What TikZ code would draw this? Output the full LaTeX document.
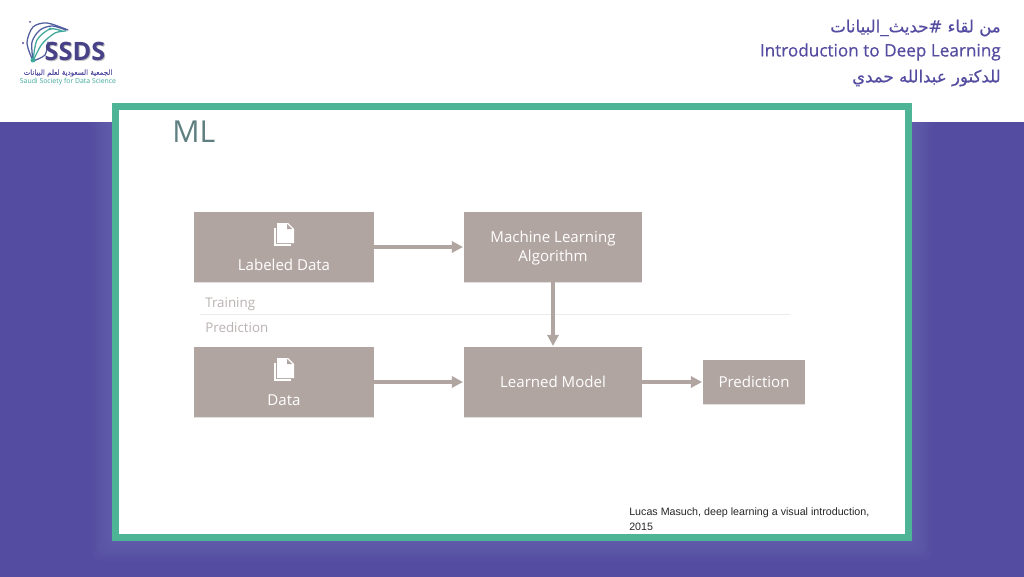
\documentclass[tikz,border=0pt]{standalone}
\usepackage{fontspec}
\setmainfont{Open Sans}
\newfontfamily\arabicfont[Script=Arabic,FakeBold=0.4]{DejaVu Sans}
\newfontfamily\headfont[FakeBold=0.5]{Open Sans}
\newfontfamily\citefont{Liberation Sans}
\TeXXeTstate=1
\usetikzlibrary{shadows,arrows.meta,positioning}
\definecolor{bandpurple}{HTML}{544CA0}
\definecolor{framegreen}{HTML}{4DB596}
\definecolor{boxtaupe}{HTML}{B1A5A1}
\definecolor{mltitle}{HTML}{5F7F80}
\definecolor{sidetext}{HTML}{B9B3B1}
\definecolor{logoteal}{HTML}{3FA89A}
\tikzset{
    flowbox/.style={fill=boxtaupe, inner sep=0pt,
        general shadow={shadow xshift=0pt, shadow yshift=-1pt, opacity=0.12, fill=black}},
    boxlabel/.style={text=white, inner sep=0pt, align=center, font=\fontsize{10.7}{13.5}\selectfont},
    flowarrow/.style={draw=boxtaupe, line width=2.2pt, -{Triangle[length=8pt,width=8pt]}, shorten >=0.5pt},
    sidelabel/.style={text=sidetext, anchor=west, inner sep=0pt, font=\fontsize{9.5}{11}\selectfont},
    headline/.style={text=bandpurple, anchor=east, inner sep=0pt},
    logoarc/.style={draw=bandpurple!80!logoteal, line width=0.9pt, line cap=round}
}
\newcommand{\docicon}[2]{%
    \draw[white, line width=0.9pt] (#1-9,#2-6) -- (#1-9,#2+11) -- (#1+7,#2+11);
    \fill[white] (#1-7,#2-11) -- (#1+4,#2-11) -- (#1+10,#2-5) -- (#1+10,#2+9) -- (#1-7,#2+9) -- cycle;
    \fill[boxtaupe] (#1+3,#2-10) -- (#1+3,#2-5) -- (#1+8,#2-5) -- cycle;
}
\begin{document}
\begin{tikzpicture}[x=0.025cm, y=-0.025cm]
    % Page and band
    \useasboundingbox (0,0) rectangle (1024,577);
    \fill[white] (0,0) rectangle (1024,122);
    \fill[bandpurple] (0,122) rectangle (1024,577);

    % Pale glow round the slide
    \begin{scope}
        \clip (0,122) rectangle (1024,577);
        \foreach \g in {2,4,...,20} {
            \fill[white, opacity=0.011, rounded corners=6pt] (112-\g,103-\g) rectangle (912+\g,541+\g);
        }
    \end{scope}

    % Slide with its frame
    \fill[framegreen] (112,103) rectangle (912,541);
    \fill[white] (119,110) rectangle (905,534);

    % Logo
    \draw[logoarc] plot[smooth] coordinates {(33,61) (27,43) (33,27) (47,23) (68,30)};
    \draw[logoarc] plot[smooth] coordinates {(33,61) (32,42) (40,30) (52,26) (66,30)};
    \draw[logoarc, draw=logoteal] plot[smooth] coordinates {(33,61) (37,40) (50,29) (62,31)};
    \draw[logoarc, draw=logoteal] plot[smooth] coordinates {(33,61) (42,44) (55,33) (66,31)};
    \draw[logoarc] plot[smooth] coordinates {(33,61) (45,55) (48,42)};
    \fill[logoteal] (33,60) circle (2.5);
    \fill[logoteal] (50,29) circle (1.5);
    \fill[bandpurple] (30,22) circle (1);
    \fill[bandpurple] (23,43) circle (1.2);
    \node[text=black!25, inner sep=0pt] (logoback) at (76,52)
        {\fontsize{18}{20}\selectfont\bfseries SSDS};
    \node[text=bandpurple!85!black, inner sep=0pt] (logoname) at (75,51)
        {\fontsize{18}{20}\selectfont\bfseries SSDS};
    \node[text=bandpurple, inner sep=0pt] (logoarabic) at (68,73)
        {\arabicfont\fontsize{5}{6}\selectfont\beginR الجمعية السعودية لعلم البيانات\endR};
    \node[text=logoteal, inner sep=0pt] (logoenglish) at (68,82)
        {\fontsize{4.9}{6}\selectfont Saudi Society for Data Science};

    % Headline, top right
    \node[headline] (talkname) at (1001,28)
        {\arabicfont\fontsize{11.8}{13}\selectfont\beginR من لقاء \#حديث\_البيانات\endR};
    \node[headline] (talktitle) at (1001,52)
        {\headfont\fontsize{12.2}{14}\selectfont Introduction to Deep Learning};
    \node[headline] (talker) at (1001,78)
        {\arabicfont\fontsize{11.8}{13}\selectfont\beginR للدكتور عبدالله حمدي\endR};

    % Slide title
    \node[text=mltitle, anchor=west, inner sep=0pt] (mlhead) at (172,132)
        {\fontsize{21.5}{24}\selectfont ML};

    % Boxes
    \node[flowbox, minimum width=4.5cm, minimum height=1.75cm] (labeled) at (284,247) {};
    \node[flowbox, minimum width=4.45cm, minimum height=1.75cm] (mlalgo) at (553,247) {};
    \node[flowbox, minimum width=4.5cm, minimum height=1.75cm] (data) at (284,382) {};
    \node[flowbox, minimum width=4.45cm, minimum height=1.75cm] (learned) at (553,382) {};
    \node[flowbox, minimum width=2.55cm, minimum height=1.1cm] (predicted) at (754,382) {};

    % Box labels
    \node[boxlabel] (labeledtext) at (284,265) {Labeled Data};
    \node[boxlabel] (mlalgotext) at (553,248) {Machine Learning\\Algorithm};
    \node[boxlabel] (datatext) at (284,400) {Data};
    \node[boxlabel] (learnedtext) at (553,382) {Learned Model};
    \node[boxlabel] (predictedtext) at (754,382) {Prediction};
    \docicon{284}{234}
    \docicon{284}{369}

    % Training / prediction split
    \coordinate (splitleft) at (200,314);
    \coordinate (splitright) at (790,314);
    \draw[black!8, line width=0.5pt] (splitleft) -- (splitright);
    \node[sidelabel] (traintext) at (205,304) {Training};
    \node[sidelabel] (predtext) at (205,327) {Prediction};

    % Arrows
    \draw[flowarrow] (labeled) -- (mlalgo);
    \draw[flowarrow] (mlalgo) -- (learned);
    \draw[flowarrow] (data) -- (learned);
    \draw[flowarrow] (learned) -- (predicted);

    % Source
    \node[anchor=north west, inner sep=0pt, align=left, text=black!85, font=\citefont\fontsize{7.6}{10.7}\selectfont] (source) at (629,507.5)
        {Lucas Masuch, deep learning a visual introduction,\\2015};
\end{tikzpicture}
\end{document}
